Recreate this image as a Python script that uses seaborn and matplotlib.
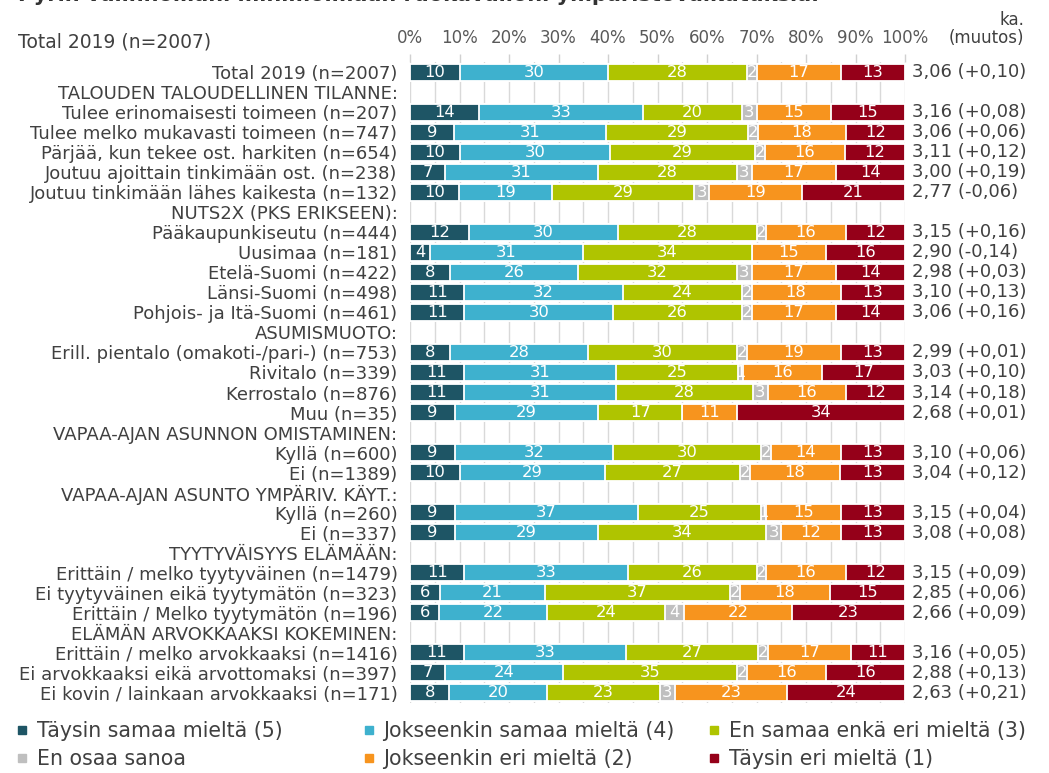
import numpy as np
import pandas as pd
import matplotlib
matplotlib.use("Agg")
import matplotlib.pyplot as plt
import matplotlib.transforms as mtransforms
from matplotlib.patches import Rectangle
from matplotlib.lines import Line2D
from matplotlib import font_manager as fm
import seaborn as sns

title = "Pyrin valinnoillani minimoimaan ruokavalioni ympäristövaikutuksia."

labels = [
    "Total 2019 (n=2007)",
    "TALOUDEN TALOUDELLINEN TILANNE:",
    "Tulee erinomaisesti toimeen (n=207)",
    "Tulee melko mukavasti toimeen (n=747)",
    "Pärjää, kun tekee ost. harkiten (n=654)",
    "Joutuu ajoittain tinkimään ost. (n=238)",
    "Joutuu tinkimään lähes kaikesta (n=132)",
    "NUTS2X (PKS ERIKSEEN):",
    "Pääkaupunkiseutu (n=444)",
    "Uusimaa (n=181)",
    "Etelä-Suomi (n=422)",
    "Länsi-Suomi (n=498)",
    "Pohjois- ja Itä-Suomi (n=461)",
    "ASUMISMUOTO:",
    "Erill. pientalo (omakoti-/pari-) (n=753)",
    "Rivitalo (n=339)",
    "Kerrostalo (n=876)",
    "Muu (n=35)",
    "VAPAA-AJAN ASUNNON OMISTAMINEN:",
    "Kyllä (n=600)",
    "Ei (n=1389)",
    "VAPAA-AJAN ASUNTO YMPÄRIV. KÄYT.:",
    "Kyllä (n=260)",
    "Ei (n=337)",
    "TYYTYVÄISYYS ELÄMÄÄN:",
    "Erittäin / melko tyytyväinen (n=1479)",
    "Ei tyytyväinen eikä tyytymätön (n=323)",
    "Erittäin / Melko tyytymätön (n=196)",
    "ELÄMÄN ARVOKKAAKSI KOKEMINEN:",
    "Erittäin / melko arvokkaaksi (n=1416)",
    "Ei arvokkaaksi eikä arvottomaksi (n=397)",
    "Ei kovin / lainkaan arvokkaaksi (n=171)",
]

N = np.nan
taysin_samaa = [10, N, 14, 9, 10, 7, 10, N, 12, 4, 8, 11, 11, N, 8, 11, 11, 9, N, 9, 10, N, 9, 9, N, 11, 6, 6, N, 11, 7, 8]
jokseenkin_samaa = [30, N, 33, 31, 30, 31, 19, N, 30, 31, 26, 32, 30, N, 28, 31, 31, 29, N, 32, 29, N, 37, 29, N, 33, 21, 22, N, 33, 24, 20]
ei_samaa_eika_eri = [28, N, 20, 29, 29, 28, 29, N, 28, 34, 32, 24, 26, N, 30, 25, 28, 17, N, 30, 27, N, 25, 34, N, 26, 37, 24, N, 27, 35, 23]
en_osaa_sanoa = [2, N, 3, 2, 2, 3, 3, N, 2, 0, 3, 2, 2, N, 2, 1, 3, 0, N, 2, 2, N, 1, 3, N, 2, 2, 4, N, 2, 2, 3]
jokseenkin_eri = [17, N, 15, 18, 16, 17, 19, N, 16, 15, 17, 18, 17, N, 19, 16, 16, 11, N, 14, 18, N, 15, 12, N, 16, 18, 22, N, 17, 16, 23]
taysin_eri = [13, N, 15, 12, 12, 14, 21, N, 12, 16, 14, 13, 14, N, 13, 17, 12, 34, N, 13, 13, N, 13, 13, N, 12, 15, 23, N, 11, 16, 24]

keskiarvo = ["3,06 (+0,10)", "", "3,16 (+0,08)", "3,06 (+0,06)", "3,11 (+0,12)", "3,00 (+0,19)",
             "2,77 (-0,06)", "", "3,15 (+0,16)", "2,90 (-0,14)", "2,98 (+0,03)", "3,10 (+0,13)",
             "3,06 (+0,16)", "", "2,99 (+0,01)", "3,03 (+0,10)", "3,14 (+0,18)", "2,68 (+0,01)",
             "", "3,10 (+0,06)", "3,04 (+0,12)", "", "3,15 (+0,04)", "3,08 (+0,08)", "",
             "3,15 (+0,09)", "2,85 (+0,06)", "2,66 (+0,09)", "", "3,16 (+0,05)", "2,88 (+0,13)",
             "2,63 (+0,21)"]

series_names = ["Täysin samaa mieltä (5)", "Jokseenkin samaa mieltä (4)", "En samaa enkä eri mieltä (3)",
                "En osaa sanoa", "Jokseenkin eri mieltä (2)", "Täysin eri mieltä (1)"]
colors = ["#1E5565", "#3EB1CE", "#AFC400", "#BFBFBF", "#F7941E", "#950019"]

W, H = 1049, 773
sns.set_theme(style="white")
names = {f.name for f in fm.fontManager.ttflist}
narrow = "Liberation Sans Narrow" if "Liberation Sans Narrow" in names else "DejaVu Sans"
plt.rcParams["font.family"] = ["DejaVu Sans"]
txt_color = "#404040"

df = pd.DataFrame({"label": labels, "s5": taysin_samaa, "s4": jokseenkin_samaa, "s3": ei_samaa_eika_eri,
                   "eos": en_osaa_sanoa, "s2": jokseenkin_eri, "s1": taysin_eri})
cols = ["s5", "s4", "s3", "eos", "s2", "s1"]
vals = df[cols].to_numpy(float)
is_data = ~np.isnan(vals[:, 0])
pct = vals / np.nansum(vals, axis=1, keepdims=True) * 100
cum = np.cumsum(pct, axis=1)

fig = plt.figure(figsize=(W / 100, H / 100), dpi=100)
ax = fig.add_axes([410 / W, 1 - 703 / H, 495 / W, 641 / H])

bar_h = 0.85
for k in reversed(range(6)):
    d = pd.DataFrame({"label": df["label"][is_data], "x": cum[is_data, k]})
    sns.barplot(data=d, x="x", y="label", order=labels, orient="y", color=colors[k],
                saturation=1, width=bar_h, edgecolor="white", linewidth=1.3,
                errorbar=None, ax=ax, zorder=3)

ax.set_xlim(0, 100)
ax.set_ylim(len(labels) - 0.5, -0.5)
ax.set_xlabel("")
ax.set_ylabel("")
for s in ax.spines.values():
    s.set_visible(False)

# x axis on top
ax.xaxis.tick_top()
ax.set_xticks(np.arange(0, 101, 10))
ax.set_xticks(np.arange(0, 101, 5), minor=True)
ax.set_xticklabels([f"{v}%" for v in range(0, 101, 10)], fontsize=12, color="#595959", family=narrow)
ax.tick_params(axis="x", which="major", length=6, width=1, color="#D0D0D0", pad=4.5)
ax.tick_params(axis="x", which="minor", length=0)
ax.grid(axis="x", which="both", color="#D9D9D9", linewidth=1, zorder=0)
ax.set_axisbelow(True)

ax.set_yticks(range(len(labels)))
ax.set_yticklabels(labels, fontsize=13, color=txt_color)
ax.tick_params(axis="y", length=0, pad=9)

# segment labels
for i in np.where(is_data)[0]:
    left = 0.0
    for k in range(6):
        v = vals[i, k]
        w = pct[i, k]
        if v > 0:
            t = ax.text(left + w / 2, i, f"{int(v)}", ha="center", va="center", color="white",
                        fontsize=11.8, zorder=5)
            clip = Rectangle((left, i - bar_h / 2), w, bar_h, transform=ax.transData)
            t.set_clip_path(clip)
        left += w

# mean column
trans = mtransforms.blended_transform_factory(fig.transFigure, ax.transData)
for i, s in enumerate(keskiarvo):
    if s:
        fig.text(912 / W, i, s, transform=trans, ha="left", va="center", fontsize=13, color=txt_color)

fig.text(18 / W, 1 + 5 / H, title, ha="left", va="center", fontsize=15, color="#333333", fontweight="bold")
fig.text(18 / W, 1 - 42 / H, "Total 2019 (n=2007)", ha="left", va="center", fontsize=13.5,
         color=txt_color, family=narrow)
fig.text(1024 / W, 1 - 20 / H, "ka.", ha="right", va="center", fontsize=12, color=txt_color, family=narrow)
fig.text(1024 / W, 1 - 38 / H, "(muutos)", ha="right", va="center", fontsize=12, color=txt_color, family=narrow)

# legend: three columns, two rows (row-major order)
handles = [Line2D([], [], marker="s", ls="", color=c, markersize=6) for c in colors]
col_x = [16, 363, 708]
for j in range(3):
    idx = [j, j + 3]
    fig.legend([handles[m] for m in idx], [series_names[m] for m in idx],
               loc="upper left", bbox_to_anchor=(col_x[j] / W, 1 - 721 / H),
               frameon=False, fontsize=14.8, labelcolor=txt_color, handlelength=0.55,
               handletextpad=0.45, labelspacing=0.38, borderpad=0, borderaxespad=0)

fig.savefig("out.png", dpi=100)
